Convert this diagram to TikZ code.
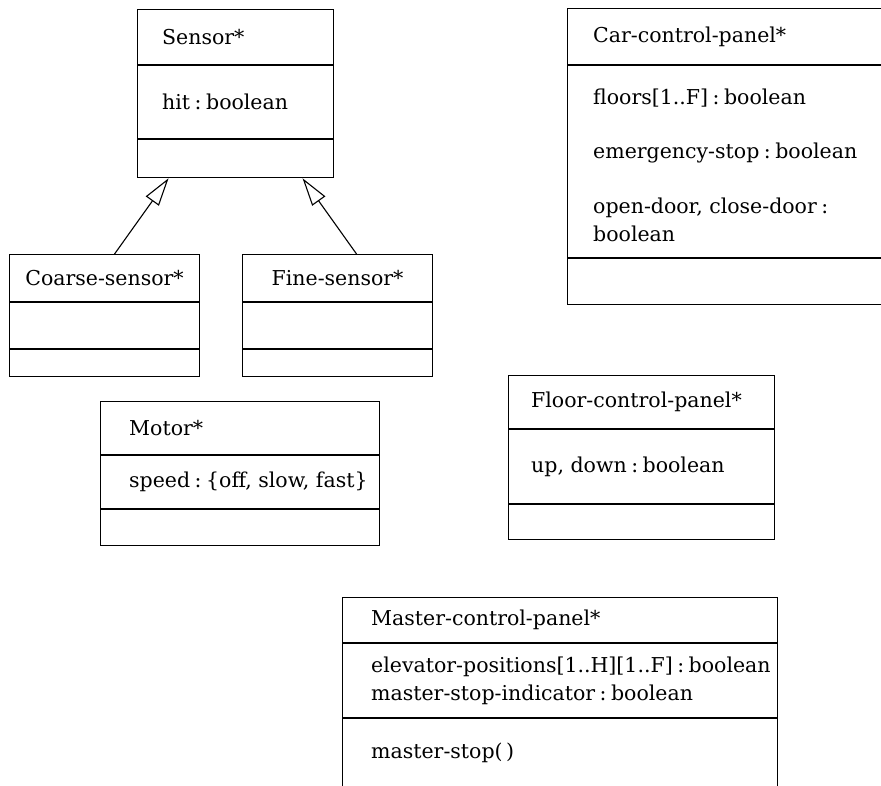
\documentclass[tikz,border=0pt]{standalone}
\usepackage{fontspec}
\setmainfont{DejaVu Serif}
\usepackage{tikz}
\usetikzlibrary{positioning, arrows.meta}
\newcommand{\oftype}{\kern.22em:\kern.22em}
\tikzset{
  part/.style 2 args={draw, line width=1.1pt, rectangle, anchor=north west,
    minimum width=#1pt, minimum height=#2pt, inner sep=0pt},
  txt/.style={anchor=west, align=left, inner sep=0pt,
    font=\fontsize{20.5}{28}\selectfont},
  gen/.style={-{Triangle[open, length=28pt, width=16pt]}, line width=1.1pt},
}

\begin{document}
\begin{tikzpicture}[x=1pt, y=-1pt]
  \useasboundingbox (0,0) rectangle (881,786);
  \clip (0,0) rectangle (881,786);

  \node[part={196}{55}] (sensor-t) at (137,9) {};
  \node[part={196}{73}, below=0pt of sensor-t] (sensor-a) {};
  \node[part={196}{38}, below=0pt of sensor-a] (sensor-o) {};
  \node[txt, right=25pt of sensor-t.west] (sensor-name) {Sensor*};
  \node[txt, right=25pt of sensor-a.west] (sensor-attr) {hit\oftype boolean};

  \node[part={190}{47}] (coarse-t) at (9,254) {};
  \node[part={190}{46}, below=0pt of coarse-t] (coarse-a) {};
  \node[part={190}{27}, below=0pt of coarse-a] (coarse-o) {};
  \node[txt, anchor=center] (coarse-name) at (coarse-t.center) {Coarse-sensor*};

  \node[part={190}{47}] (fine-t) at (242,254) {};
  \node[part={190}{46}, below=0pt of fine-t] (fine-a) {};
  \node[part={190}{27}, below=0pt of fine-a] (fine-o) {};
  \node[txt, anchor=center] (fine-name) at (fine-t.center) {Fine-sensor*};

  \draw[gen] ([xshift=10pt]coarse-t.north) -- ([xshift=-67pt]sensor-o.south);
  \draw[gen] ([xshift=19pt]fine-t.north) -- ([xshift=67pt]sensor-o.south);

  \node[part={279}{53}] (motor-t) at (100,401) {};
  \node[part={279}{53}, below=0pt of motor-t] (motor-a) {};
  \node[part={279}{36}, below=0pt of motor-a] (motor-o) {};
  \node[txt, right=29pt of motor-t.west] (motor-name) {Motor*};
  \node[txt, right=29pt of motor-a.west] (motor-attr) {speed\oftype\{off, slow, fast\}};

  \node[part={340}{56}] (car-t) at (567,8) {};
  \node[part={340}{192}, below=0pt of car-t] (car-a) {};
  \node[part={340}{46}, below=0pt of car-a] (car-o) {};
  \node[txt, right=26pt of car-t.west] (car-name) {Car-control-panel*};
  \node[txt, right=26pt of car-a.west, yshift=-4pt] (car-attr)
    {floors[1..F]\oftype boolean\\[26pt]emergency-stop\oftype boolean\\[27pt]open-door, close-door\oftype\\boolean};

  \node[part={266}{53}] (floor-t) at (508,375) {};
  \node[part={266}{74}, below=0pt of floor-t] (floor-a) {};
  \node[part={266}{35}, below=0pt of floor-a] (floor-o) {};
  \node[txt, right=23pt of floor-t.west] (floor-name) {Floor-control-panel*};
  \node[txt, right=23pt of floor-a.west] (floor-attr) {up, down\oftype boolean};

  \node[part={435}{45}] (master-t) at (342,597) {};
  \node[part={435}{74}, below=0pt of master-t] (master-a) {};
  \node[part={435}{76}, below=0pt of master-a] (master-o) {};
  \node[txt, right=29pt of master-t.west] (master-name) {Master-control-panel*};
  \node[txt, right=29pt of master-a.west] (master-attr)
    {elevator-positions[1..H][1..F]\oftype boolean\\master-stop-indicator\oftype boolean};
  \node[txt, right=29pt of master-o.west, yshift=4pt] (master-ops) {master-stop(\,)};
\end{tikzpicture}
\end{document}
